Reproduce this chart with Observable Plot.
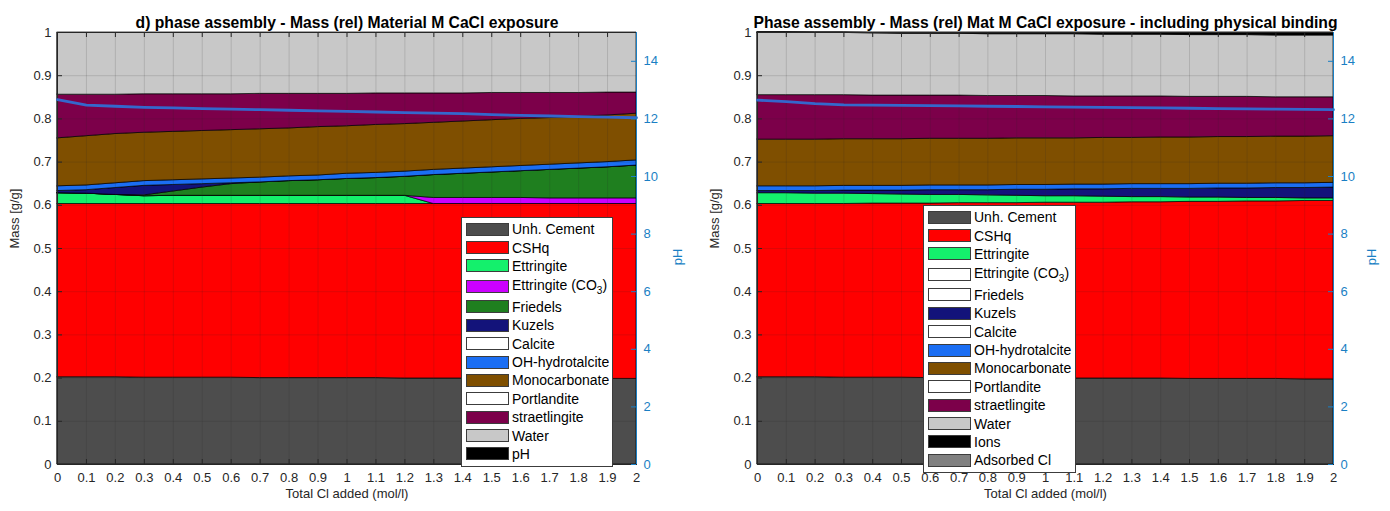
<!DOCTYPE html>
<html>
<head>
<meta charset="utf-8">
<script src="https://cdn.jsdelivr.net/npm/d3@7"></script>
<script src="https://cdn.jsdelivr.net/npm/@observablehq/plot@0.6"></script>
<style>
  body { margin: 0; background: #fff; }
  #fig { position: relative; width: 1390px; height: 511px; font-family: "Liberation Sans", Arial, sans-serif; color: #262626; overflow: hidden; }
  .layer { position: absolute; top: 0; }
  .legend { position: absolute; background: #fff; border: 1px solid #3c3c3c; box-sizing: border-box; font-size: 14px; color: #000; padding-top: 2px; }
  .legend .row { display: flex; align-items: center; height: 18.4px; white-space: nowrap; }
  .legend .row.tall { height: 22.5px; }
  .legend .sw { width: 43px; height: 13px; border: 1px solid #3c3c3c; box-sizing: border-box; margin-left: 4px; margin-right: 3px; flex: none; }
  .legend sub { font-size: 10px; }
</style>
</head>
<body>
<div id="fig"></div>
<script>
// Total Cl added (mol/l), shared by both panels
const xTicks = [0, 0.1, 0.2, 0.3, 0.4, 0.5, 0.6, 0.7, 0.8, 0.9, 1, 1.1, 1.2, 1.3, 1.4, 1.5, 1.6, 1.7, 1.8, 1.9, 2];
const massTicks = [0, 0.1, 0.2, 0.3, 0.4, 0.5, 0.6, 0.7, 0.8, 0.9, 1];
const pHTicks = [0, 2, 4, 6, 8, 10, 12, 14];

// Panel d) — phase masses (g/g), stacked bottom to top
const leftPhases = ["Unh. Cement", "CSHq", "Ettringite", "Ettringite (CO3)", "Friedels", "Kuzels", "OH-hydrotalcite", "Monocarbonate", "straetlingite", "Water"];
const leftCement   = [0.202,0.202,0.202,0.201,0.201,0.201,0.201,0.200,0.200,0.200,0.200,0.200,0.199,0.199,0.199,0.199,0.199,0.198,0.198,0.198,0.198];
const leftCSHq     = [0.401,0.401,0.401,0.402,0.402,0.402,0.402,0.403,0.403,0.403,0.403,0.403,0.404,0.404,0.404,0.404,0.404,0.405,0.405,0.405,0.405];
const leftEtt      = [0.025,0.024,0.021,0.018,0.019,0.019,0.019,0.019,0.019,0.019,0.019,0.019,0.019,0,0,0,0,0,0,0,0];
const leftEttCO3   = [0,0,0,0,0,0,0,0,0,0,0,0,0,0.014,0.014,0.014,0.014,0.013,0.013,0.013,0.013];
const leftFriedels = [0,0,0,0.002,0.010,0.019,0.027,0.031,0.034,0.036,0.039,0.041,0.044,0.053,0.056,0.059,0.062,0.066,0.069,0.072,0.076];
const leftKuzels   = [0.005,0.008,0.016,0.022,0.015,0.008,0.002,0,0,0,0,0,0,0,0,0,0,0,0,0,0];
const leftOHht     = [0.011,0.011,0.011,0.011,0.011,0.011,0.011,0.011,0.011,0.011,0.012,0.012,0.012,0.012,0.012,0.012,0.012,0.012,0.012,0.012,0.012];
const leftMonoc    = [0.111,0.114,0.114,0.112,0.112,0.112,0.112,0.112,0.111,0.112,0.110,0.111,0.110,0.109,0.109,0.109,0.109,0.108,0.108,0.108,0.108];
const leftStraet   = [0.101,0.096,0.091,0.089,0.087,0.085,0.083,0.082,0.080,0.077,0.075,0.073,0.071,0.068,0.065,0.063,0.060,0.058,0.055,0.053,0.049];
const leftWater    = [0.144,0.144,0.144,0.143,0.143,0.143,0.143,0.142,0.142,0.142,0.142,0.141,0.141,0.141,0.141,0.140,0.140,0.140,0.140,0.139,0.139];
const leftPH       = [12.67,12.48,12.44,12.40,12.38,12.36,12.34,12.32,12.30,12.28,12.26,12.24,12.22,12.20,12.18,12.15,12.12,12.10,12.08,12.06,12.04];

// Panel with physical binding — phase masses (g/g), stacked bottom to top
const rightPhases = ["Unh. Cement", "CSHq", "Ettringite", "Kuzels", "OH-hydrotalcite", "Monocarbonate", "straetlingite", "Water", "Ions", "Adsorbed Cl"];
const rightCement  = [0.202,0.202,0.202,0.201,0.201,0.201,0.200,0.200,0.200,0.200,0.200,0.199,0.199,0.199,0.199,0.198,0.198,0.198,0.198,0.197,0.197];
const rightCSHq    = [0.401,0.401,0.401,0.402,0.403,0.403,0.404,0.405,0.405,0.405,0.406,0.407,0.407,0.408,0.408,0.410,0.410,0.411,0.411,0.413,0.413];
const rightEtt     = [0.025,0.025,0.024,0.024,0.022,0.021,0.020,0.019,0.018,0.017,0.015,0.015,0.014,0.012,0.012,0.010,0.010,0.008,0.008,0.006,0.006];
const rightKuzels  = [0.005,0.005,0.006,0.007,0.008,0.009,0.011,0.011,0.012,0.014,0.015,0.016,0.017,0.019,0.019,0.020,0.021,0.022,0.023,0.024,0.025];
const rightOHht    = [0.011,0.011,0.011,0.011,0.011,0.011,0.011,0.011,0.011,0.011,0.011,0.011,0.011,0.011,0.011,0.011,0.011,0.011,0.011,0.011,0.011];
const rightMonoc   = [0.108,0.108,0.108,0.108,0.108,0.108,0.108,0.108,0.108,0.108,0.108,0.107,0.108,0.107,0.108,0.108,0.108,0.108,0.108,0.108,0.108];
const rightStraet  = [0.103,0.103,0.103,0.102,0.101,0.101,0.100,0.100,0.099,0.098,0.098,0.097,0.096,0.096,0.095,0.094,0.093,0.093,0.091,0.091,0.090];
const rightWater   = [0.145,0.145,0.144,0.144,0.144,0.143,0.143,0.143,0.143,0.143,0.143,0.144,0.143,0.143,0.143,0.143,0.143,0.143,0.143,0.143,0.143];
const rightIons    = [0,0,0.001,0.001,0.001,0.002,0.002,0.002,0.003,0.003,0.003,0.003,0.004,0.004,0.004,0.005,0.005,0.005,0.006,0.006,0.006];
const rightAdsCl   = [0,0,0,0,0.001,0.001,0.001,0.001,0.001,0.001,0.001,0.001,0.001,0.001,0.001,0.001,0.001,0.001,0.001,0.001,0.001];
const rightPH      = [12.65,12.60,12.53,12.49,12.48,12.47,12.46,12.45,12.44,12.43,12.42,12.41,12.40,12.39,12.38,12.37,12.36,12.35,12.34,12.33,12.32];

// Legend entries, in the order they are listed
const leftLegend = ["Unh. Cement", "CSHq", "Ettringite", "Ettringite (CO3)", "Friedels", "Kuzels", "Calcite", "OH-hydrotalcite", "Monocarbonate", "Portlandite", "straetlingite", "Water", "pH"];
const rightLegend = ["Unh. Cement", "CSHq", "Ettringite", "Ettringite (CO3)", "Friedels", "Kuzels", "Calcite", "OH-hydrotalcite", "Monocarbonate", "Portlandite", "straetlingite", "Water", "Ions", "Adsorbed Cl"];

const phaseColors = {
  "Unh. Cement": "#4d4d4d",
  "CSHq": "#ff0000",
  "Ettringite": "#14f06c",
  "Ettringite (CO3)": "#cc00ff",
  "Friedels": "#1f7f1f",
  "Kuzels": "#13137a",
  "OH-hydrotalcite": "#1b6ef3",
  "Monocarbonate": "#7f4f00",
  "straetlingite": "#7c004a",
  "Water": "#c8c8c8",
  "Ions": "#000000",
  "Adsorbed Cl": "#808080"
};

const W = 695, H = 511, MT = 32, MB = 47;
const axisColor = "#262626";
const pHColor = "#1a7fc4";
const pHLine = "#3467cc";
const fontFamily = "'Liberation Sans', Arial, sans-serif";

function longRows(names, series) {
  const rows = [];
  names.forEach((name, k) => series[k].forEach((v, i) => rows.push({x: xTicks[i], phase: name, value: v})));
  return rows;
}

function basePlot(p) {
  const fw = W - p.ml - p.mr, fh = H - MT - MB;
  return Plot.plot({
    width: W, height: H,
    marginLeft: p.ml, marginRight: p.mr, marginTop: MT, marginBottom: MB,
    x: {domain: [0, 2]},
    y: {domain: [0, 1]},
    color: {domain: p.names, range: p.names.map(n => phaseColors[n])},
    style: {fontFamily, fontSize: "13px", color: axisColor, background: "transparent", overflow: "visible"},
    marks: [
      Plot.areaY(longRows(p.names, p.series), {x: "x", y: "value", z: "phase", fill: "phase", stroke: "#000", strokeWidth: 0.7}),
      Plot.gridX(xTicks, {stroke: axisColor, strokeOpacity: 0.15}),
      Plot.gridY(massTicks, {stroke: axisColor, strokeOpacity: 0.15}),
      Plot.frame({stroke: axisColor}),
      Plot.tickX(xTicks, {x: d => d, insetTop: fh - 5, stroke: axisColor}),
      Plot.tickX(xTicks, {x: d => d, insetBottom: fh - 5, stroke: axisColor}),
      Plot.tickY(massTicks, {y: d => d, insetRight: fw - 5, stroke: axisColor}),
      Plot.axisX({ticks: xTicks, tickSize: 0, tickPadding: 8, tickFormat: d => String(d), label: null}),
      Plot.axisY({ticks: massTicks, tickSize: 0, tickPadding: 6, tickFormat: d => String(d), label: null}),
      Plot.text([p.title], {frameAnchor: "top", dy: -16, fontWeight: "bold", fontSize: 15.7, fill: "#000"}),
      Plot.text(["Mass [g/g]"], {frameAnchor: "left", rotate: -90, dx: -43, fontSize: 13}),
      Plot.text(["Total Cl added (mol/l)"], {frameAnchor: "bottom", dy: 33, fontSize: 13})
    ]
  });
}

function pHPlot(p) {
  const fw = W - p.ml - p.mr;
  return Plot.plot({
    width: W, height: H,
    marginLeft: p.ml, marginRight: p.mr, marginTop: MT, marginBottom: MB,
    x: {domain: [0, 2], axis: null},
    y: {domain: [0, 15]},
    style: {fontFamily, fontSize: "13px", background: "transparent", overflow: "visible"},
    marks: [
      Plot.lineY(p.pH, {x: xTicks, stroke: pHLine, strokeWidth: 2.8}),
      Plot.ruleX([2], {stroke: pHColor, strokeWidth: 1}),
      Plot.tickY(pHTicks, {y: d => d, insetLeft: fw - 5, stroke: pHColor}),
      Plot.axisY({anchor: "right", ticks: pHTicks, tickSize: 0, tickPadding: 7, tickFormat: d => String(d), color: pHColor, label: null}),
      Plot.text(["pH"], {frameAnchor: "right", rotate: -90, dx: p.pHdx, fill: pHColor, fontSize: 13})
    ]
  });
}

function legend(entries, present, box) {
  const div = document.createElement("div");
  div.className = "legend";
  Object.assign(div.style, {left: box.left + "px", top: box.top + "px", width: box.width + "px", height: box.height + "px"});
  for (const name of entries) {
    const color = present.includes(name) ? phaseColors[name] : (name === "pH" ? "#000" : "#fff");
    const row = document.createElement("div");
    row.className = "row" + (name === "Ettringite (CO3)" ? " tall" : "");
    const sw = document.createElement("div");
    sw.className = "sw";
    sw.style.background = color;
    const label = document.createElement("span");
    if (name === "Ettringite (CO3)") label.innerHTML = "Ettringite (CO<sub>3</sub>)";
    else label.textContent = name;
    row.append(sw, label);
    div.append(row);
  }
  return div;
}

const panels = [
  {
    offset: 0, ml: 57, mr: 59, pHdx: 41,
    title: "d) phase assembly - Mass (rel) Material M CaCl exposure",
    names: leftPhases,
    series: [leftCement, leftCSHq, leftEtt, leftEttCO3, leftFriedels, leftKuzels, leftOHht, leftMonoc, leftStraet, leftWater],
    pH: leftPH,
    legend: leftLegend,
    box: {left: 461, top: 217, width: 152, height: 250}
  },
  {
    offset: 695, ml: 62, mr: 57, pHdx: 38,
    title: "Phase assembly - Mass (rel) Mat M CaCl exposure - including physical binding",
    names: rightPhases,
    series: [rightCement, rightCSHq, rightEtt, rightKuzels, rightOHht, rightMonoc, rightStraet, rightWater, rightIons, rightAdsCl],
    pH: rightPH,
    legend: rightLegend,
    box: {left: 923, top: 205, width: 153, height: 268}
  }
];

const fig = document.getElementById("fig");
for (const p of panels) {
  for (const svg of [basePlot(p), pHPlot(p)]) {
    svg.classList.add("layer");
    svg.style.left = p.offset + "px";
    fig.append(svg);
  }
  fig.append(legend(p.legend, p.names, p.box));
}
</script>
</body>
</html>
